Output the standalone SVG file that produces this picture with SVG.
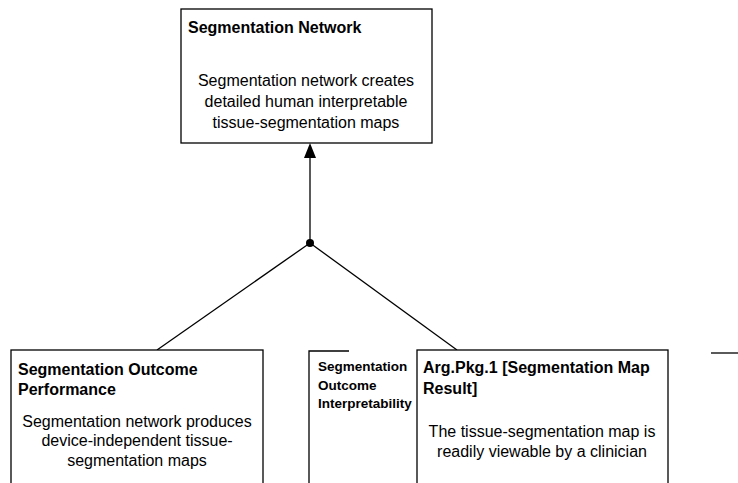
<svg xmlns="http://www.w3.org/2000/svg" width="738" height="483" viewBox="0 0 738 483">
<defs>
<style>
.box{fill:#fff;stroke:#000;stroke-width:1.3}
.ln{fill:none;stroke:#000;stroke-width:1.3}
.t{font-family:"Liberation Sans",Arial,sans-serif;font-weight:bold;font-size:16px;fill:#000}
.ts{font-family:"Liberation Sans",Arial,sans-serif;font-weight:bold;font-size:13.5px;fill:#000}
.b{font-family:"Liberation Sans",Arial,sans-serif;font-size:16px;fill:#000;text-anchor:middle}
</style>
</defs>
<rect width="738" height="483" fill="#fff"/>
<g id="connectors">
<line class="ln" x1="310" y1="243" x2="310" y2="158"/>
<path d="M310,143 L316,158 L304,158 Z" fill="#000"/>
<circle cx="310" cy="243" r="4" fill="#000"/>
<line class="ln" x1="310" y1="243" x2="157" y2="350"/>
<line class="ln" x1="310" y1="243" x2="457" y2="350"/>
<line class="ln" x1="711" y1="353" x2="738" y2="353"/>
</g>
<g id="segmentation-network">
<rect class="box" x="181" y="9" width="251" height="134"/>
<text class="t" x="188" y="33">Segmentation Network</text>
<text class="b" x="306" y="86">Segmentation network creates</text>
<text class="b" x="306" y="107">detailed human interpretable</text>
<text class="b" x="306" y="128">tissue-segmentation maps</text>
</g>
<g id="outcome-performance">
<rect class="box" x="11" y="350" width="252" height="140"/>
<text class="t" x="18" y="375">Segmentation Outcome</text>
<text class="t" x="18" y="395">Performance</text>
<text class="b" x="137" y="427">Segmentation network produces</text>
<text class="b" x="137" y="446">device-independent tissue-</text>
<text class="b" x="137" y="466">segmentation maps</text>
</g>
<g id="outcome-interpretability">
<polyline class="ln" points="309,490 309,351 349,351"/>
<text class="ts" x="318" y="371">Segmentation</text>
<text class="ts" x="318" y="390">Outcome</text>
<text class="ts" x="318" y="408">Interpretability</text>
</g>
<g id="arg-pkg-1">
<rect class="box" x="417" y="350" width="251" height="140"/>
<text class="t" x="423" y="373">Arg.Pkg.1 [Segmentation Map</text>
<text class="t" x="423" y="394">Result]</text>
<text class="b" x="542" y="437">The tissue-segmentation map is</text>
<text class="b" x="542" y="457">readily viewable by a clinician</text>
</g>
</svg>
